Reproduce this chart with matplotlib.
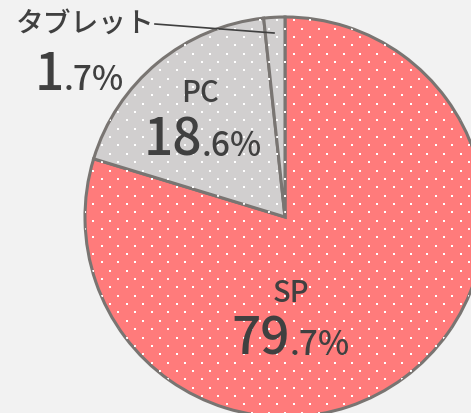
import numpy as np
import matplotlib.pyplot as plt

plt.rcParams['font.family'] = ['Noto Sans CJK JP', 'DejaVu Sans']
plt.rcParams['font.weight'] = 'medium'

# data
labels = ['SP', 'PC', 'タブレット']
shares = [79.7, 18.6, 1.7]
colors = ['#ff7b7b', '#d1cfcf', '#d1cfcf']

W, H = 471, 414
fig = plt.figure(figsize=(W / 100, H / 100), dpi=100, facecolor='#f2f2f2')
ax = fig.add_axes([0, 0, 1, 1])

cx, cy, r = 285, H - 218, 200
wedges, _ = ax.pie(shares, colors=colors, startangle=90, counterclock=False,
                   center=(cx, cy), radius=r, frame=True,
                   wedgeprops=dict(edgecolor='#797572', linewidth=2.2))
ax.set_xlim(0, W)
ax.set_ylim(0, H)
ax.axis('off')

# white dot texture inside each slice
gx, gy = np.meshgrid(np.arange(-10, W + 20, 16.7), np.arange(-10, H + 20, 8.35))
gx = gx + (np.arange(gx.shape[0])[:, None] % 2) * 8.35
for w in wedges:
    sc = ax.scatter(gx.ravel() + 3, gy.ravel() + 2, s=2.6, marker='s',
                    color='white', linewidths=0, zorder=w.get_zorder() + 0.1)
    sc.set_clip_path(w)
    w.set_zorder(1)

txt = '#404040'

def pct(y, big, small, split):
    ax.text(split, H - y, big, fontsize=37, color=txt, ha='right', va='baseline')
    ax.text(split, H - y, small, fontsize=24, color=txt, ha='left', va='baseline')

# SP
ax.text(291, H - 294, labels[0], fontsize=21, color=txt, ha='center', va='center')
pct(355, '79', '.7%', 290)
# PC
ax.text(200, H - 93, labels[1], fontsize=21, color=txt, ha='center', va='center')
pct(156, '18', '.6%', 202)
# tablet
ax.text(85, H - 23, labels[2], fontsize=20, color=txt, ha='center', va='center')
pct(90, '1', '.7%', 64)
ax.plot([155, 274], [H - 25, H - 34], color='#404040', linewidth=1.2, zorder=5)

fig.savefig('out.png', dpi=100, facecolor=fig.get_facecolor())
